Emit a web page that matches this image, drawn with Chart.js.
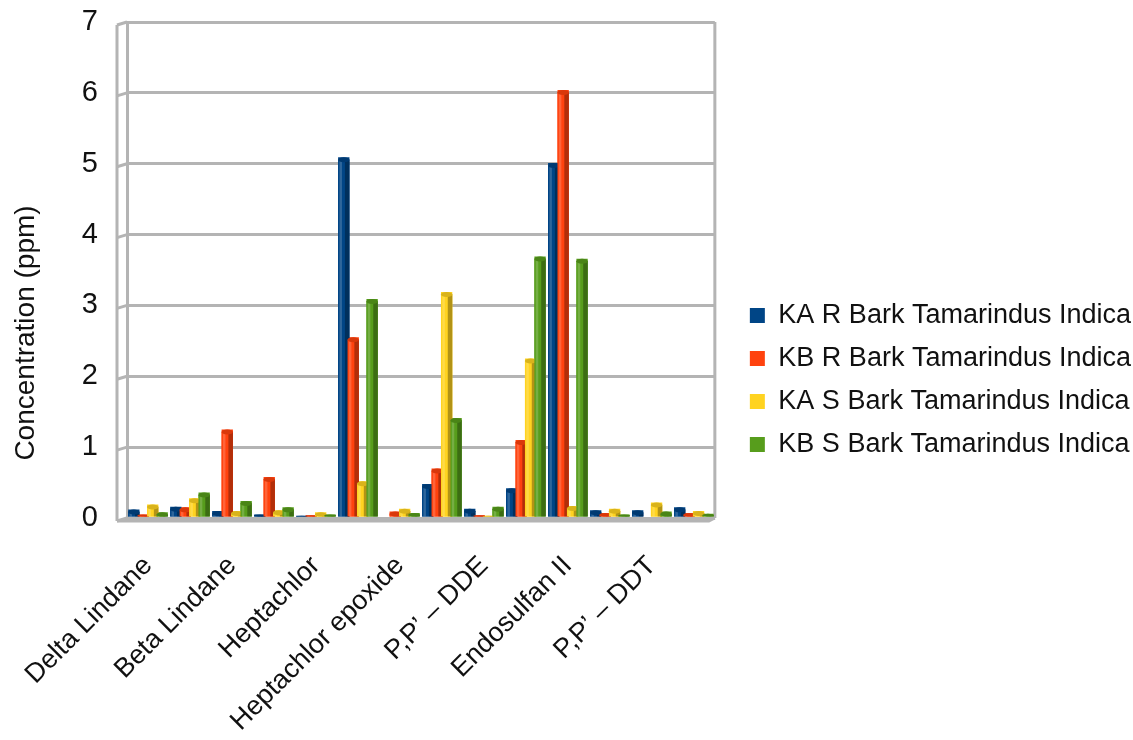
<!DOCTYPE html>
<html>
<head>
<meta charset="utf-8">
<title>Organochlorine residues in Tamarindus indica bark</title>
<script src="https://cdn.jsdelivr.net/npm/chart.js@4.4.1/dist/chart.umd.min.js"></script>
<style>
  html, body { margin: 0; padding: 0; background: #ffffff; }
  #wrap { width: 1133px; height: 740px; position: relative; }
</style>
</head>
<body>
<div id="wrap"><canvas id="chart" width="1133" height="740"></canvas></div>
<script>
// Pesticide categories (only every other one carries a printed name)
const categories = [
  'Delta Lindane', '', 'Beta Lindane', '', 'Heptachlor', '',
  'Heptachlor epoxide', '', 'P,P’ – DDE', '', 'Endosulfan II', '',
  'P,P’ – DDT', ''
];

// Concentrations in ppm, one array per sample series
const kaRBark = [0.12, 0.16, 0.10, 0.05, 0.03, 5.09, 0.02, 0.48, 0.13, 0.42, 5.01, 0.11, 0.11, 0.15];
const kbRBark = [0.05, 0.15, 1.25, 0.58, 0.04, 2.55, 0.09, 0.70, 0.04, 1.10, 6.04, 0.07, 0.02, 0.07];
const kaSBark = [0.19, 0.28, 0.10, 0.11, 0.08, 0.52, 0.13, 3.19, 0.03, 2.25, 0.17, 0.13, 0.22, 0.10];
const kbSBark = [0.08, 0.36, 0.24, 0.15, 0.05, 3.09, 0.07, 1.41, 0.16, 3.69, 3.66, 0.05, 0.09, 0.06];

const seriesNames = [
  'KA R Bark Tamarindus Indica',
  'KB R Bark Tamarindus Indica',
  'KA S Bark Tamarindus Indica',
  'KB S Bark Tamarindus Indica'
];
const seriesColors = ['#004586', '#ff420e', '#ffd320', '#579d1c'];

const yTicks = [0, 1, 2, 3, 4, 5, 6, 7];
const yTitle = 'Concentration (ppm)';

const FONT = "'Liberation Sans', Arial, sans-serif";
const TEXT = '#111111';
const WALL = '#b4b4b4';

// Shades each bar like a small cylinder: darker right side and a rounded cap
const cylinderShade = {
  id: 'cylinderShade',
  afterDatasetsDraw(chart) {
    const ctx = chart.ctx;
    const n = chart.data.labels.length;
    // draw bar by bar, left to right inside each group, so neighbours overlap
    for (let j = 0; j < n; j++) {
      chart.data.datasets.forEach((ds, i) => {
        const meta = chart.getDatasetMeta(i);
        if (meta.hidden) return;
        const bar = meta.data[j];
        const p = bar.getProps(['x', 'y', 'base', 'width'], true);
        const w = p.width, l = p.x - w / 2;
        const h = p.base - p.y;
        if (h <= 0) return;
        const capR = Math.min(2.5, h / 2);
        ctx.save();
        ctx.fillStyle = ds.backgroundColor;
        ctx.fillRect(l, p.y + capR, w, h - capR);
        ctx.fillStyle = 'rgba(255,255,255,0.18)';
        ctx.fillRect(l + w * 0.12, p.y + capR, w * 0.22, h - capR);
        ctx.fillStyle = 'rgba(0,0,0,0.30)';
        ctx.fillRect(l + w * 0.6, p.y + capR, w * 0.4, h - capR);
        ctx.beginPath();
        ctx.ellipse(p.x, p.y + capR, w / 2, capR, 0, 0, Math.PI * 2);
        ctx.fillStyle = ds.backgroundColor;
        ctx.fill();
        ctx.fillStyle = 'rgba(0,0,0,0.15)';
        ctx.fill();
        ctx.restore();
      });
    }
  }
};

// Side wall, right wall and floor edge around the plot
const walls = {
  id: 'walls',
  beforeDatasetsDraw(chart) {
    const {ctx, chartArea: a, scales: {y}} = chart;
    ctx.save();
    ctx.strokeStyle = WALL;
    ctx.lineWidth = 3;
    const off = 10;
    ctx.beginPath();
    ctx.moveTo(a.left - off, a.top + 3);
    ctx.lineTo(a.left - off, a.bottom + 3);
    ctx.stroke();
    yTicks.forEach(v => {
      const py = y.getPixelForValue(v);
      ctx.beginPath();
      ctx.moveTo(a.left - off, py + 3);
      ctx.lineTo(a.left, py);
      ctx.stroke();
    });
    ctx.beginPath();
    ctx.moveTo(a.right, a.top);
    ctx.lineTo(a.right, a.bottom);
    ctx.stroke();
    ctx.beginPath();
    ctx.moveTo(a.left - off, a.bottom + 3);
    ctx.lineTo(a.right - 6, a.bottom + 3);
    ctx.lineTo(a.right, a.bottom);
    ctx.stroke();
    ctx.restore();
  }
};

// Vertical axis title, placed a little below the middle of the value axis
const axisTitle = {
  id: 'axisTitle',
  afterDraw(chart) {
    const {ctx, chartArea: a} = chart;
    ctx.save();
    ctx.translate(26, (a.top + a.bottom) / 2 + 63);
    ctx.rotate(-Math.PI / 2);
    ctx.font = '28px ' + FONT;
    ctx.fillStyle = TEXT;
    ctx.textAlign = 'center';
    ctx.textBaseline = 'middle';
    ctx.fillText(yTitle, 0, 0);
    ctx.restore();
  }
};

new Chart(document.getElementById('chart'), {
  type: 'bar',
  data: {
    labels: categories,
    datasets: [kaRBark, kbRBark, kaSBark, kbSBark].map((vals, i) => ({
      label: seriesNames[i],
      data: vals,
      backgroundColor: seriesColors[i],
      borderWidth: 0,
      barPercentage: 1.2,
      categoryPercentage: 0.9
    }))
  },
  options: {
    responsive: false,
    animation: false,
    devicePixelRatio: 1,
    layout: { padding: { left: 0, top: 0, right: -8, bottom: 0 } },
    plugins: {
      legend: {
        position: 'right',
        maxWidth: 520,
        title: { display: true, text: ' ', font: { size: 10 }, padding: 4 },
        labels: {
          font: { family: FONT, size: 27 },
          color: TEXT,
          boxWidth: 15,
          boxHeight: 15,
          padding: 16
        }
      },
      tooltip: { enabled: false }
    },
    scales: {
      x: {
        grid: { display: false },
        border: { display: false },
        ticks: {
          autoSkip: false,
          minRotation: 45,
          maxRotation: 45,
          padding: 24,
          color: TEXT,
          font: { family: FONT, size: 27 }
        },
        afterFit(scale) {
          scale.paddingLeft = 0;
          scale.paddingRight = 0;
          scale.height = 222;
        }
      },
      y: {
        min: 0,
        max: 7,
        afterBuildTicks(scale) { scale.ticks = yTicks.map(v => ({ value: v })); },
        grid: { color: WALL, lineWidth: 3, drawTicks: false },
        border: { display: true, color: WALL, width: 3 },
        ticks: {
          padding: 29,
          color: TEXT,
          font: { family: FONT, size: 29 }
        },
        afterFit(scale) {
          scale.width = 127;
          scale.paddingTop = 22;
        }
      },
      // spacer between the plot and the legend
      yRight: {
        position: 'right',
        min: 0,
        max: 7,
        grid: { display: false },
        border: { display: false },
        ticks: { display: false },
        afterFit(scale) { scale.width = 19; }
      }
    }
  },
  plugins: [walls, cylinderShade, axisTitle]
});
</script>
</body>
</html>
